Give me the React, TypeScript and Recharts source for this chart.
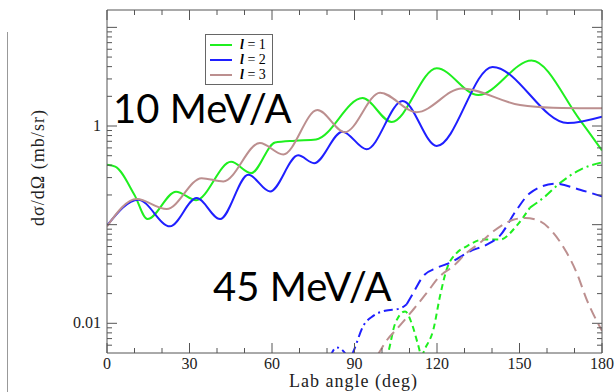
import { LineChart, Line, XAxis, YAxis, Legend, Customized } from 'recharts'

// angles (deg) and cross sections (mb/sr)
const green10Angle = [0, 3, 10, 14.7, 25.1, 32.4, 45.1, 52.4, 61.1, 68.4, 76, 92.9, 103.5, 119.9, 135, 154.4, 172, 180]
const green10Value = [0.404, 0.388, 0.2, 0.114, 0.216, 0.177, 0.433, 0.333, 0.68, 0.71, 0.73, 1.92, 1.1, 3.85, 2.06, 4.61, 1.15, 0.566]

const blue10Angle = [0, 11.4, 22.9, 32.6, 41.1, 51.4, 59.3, 69.5, 75.3, 85.6, 94.4, 107.5, 119.9, 140.2, 167.5, 180]
const blue10Value = [0.0977, 0.179, 0.0961, 0.186, 0.114, 0.32, 0.217, 0.504, 0.42, 0.876, 0.582, 1.79, 0.628, 3.97, 1.07, 1.24]

const brown10Angle = [0, 10.8, 21.7, 34.4, 42.3, 55.6, 64.1, 76.5, 86.5, 99.3, 112.6, 129, 150.2, 162.2, 180]
const brown10Value = [0.0961, 0.182, 0.144, 0.296, 0.274, 0.673, 0.515, 1.45, 0.866, 2.18, 1.38, 2.4, 1.63, 1.53, 1.51]

const green45Angle = [100, 102.3, 104.7, 108.4, 110.9, 113.1, 114.4, 115.6, 118.7, 121.1, 123.5, 127.2, 130.8, 136.8, 142.9, 149, 153.8]
const green45Value = [0.0035, 0.0051, 0.0098, 0.0132, 0.0098, 0.0061, 0.0047, 0.0055, 0.0087, 0.0189, 0.0351, 0.0518, 0.0604, 0.0706, 0.0706, 0.0977, 0.149]
const green45TailAngle = [153.8, 158.7, 164.7, 172, 180]
const green45TailValue = [0.149, 0.187, 0.264, 0.36, 0.428]

const blue45Angle = [81, 83.5, 86.5, 88, 89.6, 93.2, 96.8, 101.1, 106.5, 109]
const blue45Value = [0.0045, 0.0057, 0.005, 0.0042, 0.0052, 0.0094, 0.0119, 0.0134, 0.0141, 0.0156]
const blue45TailAngle = [109, 111.4, 115, 119.9, 124.7, 132, 138.1, 142.9, 149, 153.8, 163, 172, 180]
const blue45TailValue = [0.0156, 0.0204, 0.0301, 0.0365, 0.041, 0.0537, 0.0628, 0.0775, 0.142, 0.209, 0.26, 0.226, 0.193]

const brown45Angle = [98.5, 101.7, 105.3, 111.4, 116.3, 121.1, 125.9, 130.8, 135.6, 140.5, 147.7, 152, 157.5, 162.3, 167.2, 170.8, 174.4, 180]
const brown45Value = [0.0048, 0.0067, 0.0087, 0.0138, 0.0204, 0.0301, 0.0379, 0.0518, 0.0653, 0.0856, 0.112, 0.117, 0.108, 0.0824, 0.0518, 0.0325, 0.0175, 0.0084]

const xTicks = [0, 10, 20, 30, 40, 50, 60, 70, 80, 90, 100, 110, 120, 130, 140, 150, 160, 170, 180]
const xLabels = [0, 30, 60, 90, 120, 150, 180]
const yTicks = [
  0.006, 0.007, 0.008, 0.009, 0.01, 0.02, 0.03, 0.04, 0.05, 0.06, 0.07, 0.08, 0.09,
  0.1, 0.2, 0.3, 0.4, 0.5, 0.6, 0.7, 0.8, 0.9, 1, 2, 3, 4, 5, 6, 7, 8, 9, 10,
]
const yMajor = [0.01, 0.1, 1, 10]
const yLabels = [0.01, 1]

const legendNames = ['1', '2', '3']

const GREEN = '#1fef1f'
const BLUE = '#1f1fff'
const BROWN = '#bc8f8f'
const FRAME = '#555'
const SERIF = '"Liberation Serif", "DejaVu Serif", serif'

const zip = (a: number[], v: number[]) => a.map((x, i) => ({ a: x, v: v[i] }))

function BottomTick(props: any) {
  const { x, y, payload } = props
  const major = xLabels.includes(payload.value)
  return (
    <g>
      <line x1={x} y1={y} x2={x} y2={y - (major ? 10 : 5)} stroke={FRAME} />
      {major && (
        <text x={x} y={y + 16} textAnchor="middle" fontFamily={SERIF} fontSize={16} fill="#222">
          {payload.value}
        </text>
      )}
    </g>
  )
}

function TopTick(props: any) {
  const { x, y, payload } = props
  const major = xLabels.includes(payload.value)
  return <line x1={x} y1={y} x2={x} y2={y + (major ? 10 : 5)} stroke={FRAME} />
}

function LeftTick(props: any) {
  const { x, y, payload } = props
  const major = yMajor.includes(payload.value)
  return (
    <g>
      <line x1={x} y1={y} x2={x + (major ? 10 : 5)} y2={y} stroke={FRAME} />
      {yLabels.includes(payload.value) && (
        <text x={x - 6} y={y + 5} textAnchor="end" fontFamily={SERIF} fontSize={16} fill="#222">
          {payload.value}
        </text>
      )}
    </g>
  )
}

function RightTick(props: any) {
  const { x, y, payload } = props
  const major = yMajor.includes(payload.value)
  return <line x1={x} y1={y} x2={x - (major ? 10 : 5)} y2={y} stroke={FRAME} />
}

function LegendBox(props: any) {
  const items = (props.payload || []).filter((p: any) => p.type !== 'none')
  return (
    <div
      style={{
        border: '1px solid #666',
        background: '#fff',
        padding: '2px 6px 2px 4px',
        fontFamily: SERIF,
        fontSize: 14,
        lineHeight: '15px',
      }}
    >
      {items.map((p: any, i: number) => (
        <div key={i} style={{ display: 'flex', alignItems: 'center' }}>
          <span style={{ display: 'inline-block', width: 22, height: 2, background: p.color, marginRight: 8 }} />
          <span>
            <b><i>l</i></b> = {legendNames[i]}
          </span>
        </div>
      ))}
    </div>
  )
}

function Annotations() {
  return (
    <g>
      <text x={113} y={123} fontFamily="Lato, 'DejaVu Sans', sans-serif" fontSize={40} fill="#000">
        10 MeV/A
      </text>
      <text x={213} y={301} fontFamily="Lato, 'DejaVu Sans', sans-serif" fontSize={40} fill="#000">
        45 MeV/A
      </text>
      <text
        transform="translate(44,168) rotate(-90)"
        textAnchor="middle"
        fontFamily={SERIF}
        fontSize={18}
        textLength={116}
        fill="#222"
      >
        dσ/dΩ (mb/sr)
      </text>
      <text x={353} y={387} textAnchor="middle" fontFamily={SERIF} fontSize={18} textLength={128} fill="#222">
        Lab angle (deg)
      </text>
    </g>
  )
}

export default function App() {
  return (
    <div style={{ position: 'absolute', left: 0, top: 0, width: 615, height: 392, background: '#fff' }}>
      <div style={{ position: 'absolute', left: 7, top: 32, width: 1, height: 360, background: '#999' }} />
      <LineChart width={615} height={392} margin={{ top: 0, right: 0, bottom: 0, left: 0 }}>
        <XAxis
          xAxisId={0}
          dataKey="a"
          type="number"
          domain={[0, 180]}
          ticks={xTicks}
          interval={0}
          height={39}
          tickSize={0}
          tickMargin={0}
          tickLine={false}
          axisLine={{ stroke: FRAME }}
          tick={<BottomTick />}
          allowDataOverflow
        />
        <XAxis
          xAxisId="top"
          orientation="top"
          dataKey="a"
          type="number"
          domain={[0, 180]}
          ticks={xTicks}
          interval={0}
          height={10}
          tickSize={0}
          tickMargin={0}
          tickLine={false}
          axisLine={{ stroke: FRAME }}
          tick={<TopTick />}
          allowDataOverflow
        />
        <YAxis
          yAxisId={0}
          type="number"
          scale="log"
          domain={[0.005, 15]}
          ticks={yTicks}
          interval={0}
          width={107}
          tickSize={0}
          tickMargin={0}
          tickLine={false}
          axisLine={{ stroke: FRAME }}
          tick={<LeftTick />}
          allowDataOverflow
        />
        <YAxis
          yAxisId="right"
          orientation="right"
          type="number"
          scale="log"
          domain={[0.005, 15]}
          ticks={yTicks}
          interval={0}
          width={13}
          tickSize={0}
          tickMargin={0}
          tickLine={false}
          axisLine={{ stroke: FRAME }}
          tick={<RightTick />}
          allowDataOverflow
        />
        <Legend
          layout="vertical"
          align="center"
          verticalAlign="middle"
          wrapperStyle={{ left: 205, top: 34, width: 'auto' }}
          content={<LegendBox />}
        />
        <Line data={zip(green10Angle, green10Value)} dataKey="v" name="l = 1" type="monotone" stroke={GREEN} strokeWidth={2} dot={false} isAnimationActive={false} />
        <Line data={zip(blue10Angle, blue10Value)} dataKey="v" name="l = 2" type="monotone" stroke={BLUE} strokeWidth={2} dot={false} isAnimationActive={false} />
        <Line data={zip(brown10Angle, brown10Value)} dataKey="v" name="l = 3" type="monotone" stroke={BROWN} strokeWidth={2} dot={false} isAnimationActive={false} />
        <Line data={zip(green45Angle, green45Value)} dataKey="v" legendType="none" type="monotone" stroke={GREEN} strokeWidth={2} strokeDasharray="6 4" dot={false} isAnimationActive={false} />
        <Line data={zip(green45TailAngle, green45TailValue)} dataKey="v" legendType="none" type="monotone" stroke={GREEN} strokeWidth={2} strokeDasharray="9 4 2 4" dot={false} isAnimationActive={false} />
        <Line data={zip(blue45Angle, blue45Value)} dataKey="v" legendType="none" type="monotone" stroke={BLUE} strokeWidth={2} strokeDasharray="9 4 2 4" dot={false} isAnimationActive={false} />
        <Line data={zip(blue45TailAngle, blue45TailValue)} dataKey="v" legendType="none" type="monotone" stroke={BLUE} strokeWidth={2} strokeDasharray="11 6" dot={false} isAnimationActive={false} />
        <Line data={zip(brown45Angle, brown45Value)} dataKey="v" legendType="none" type="monotone" stroke={BROWN} strokeWidth={2} strokeDasharray="11 6" dot={false} isAnimationActive={false} />
        <Customized component={Annotations} />
      </LineChart>
    </div>
  )
}
